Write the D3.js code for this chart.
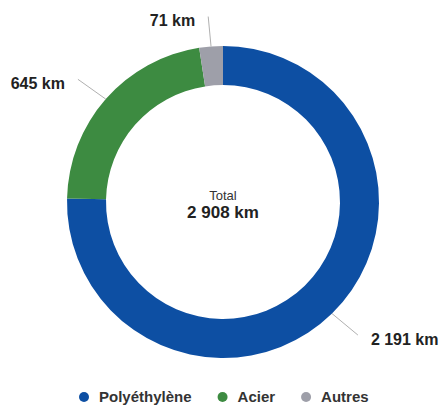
<html>
<head>
<meta charset="utf-8">
<script src="https://d3js.org/d3.v7.min.js"></script>
<style>
body {margin: 0; background: #fff;}
text {font-family: "Liberation Sans", Arial, sans-serif;}
</style>
</head>
<body>
<svg id="chart" width="441" height="405"></svg>
<script>
// data
var categories = ["Polyéthylène", "Acier", "Autres"];
var values = [2191, 645, 71];
var colors = ["#0d4fa3", "#3d8b41", "#9e9fa9"];
var totalLabel = "Total";
var totalValue = 2908; // as printed (rounded)

function fmt(v) {
    return d3.format(",")(v).replace(/,/g, " ") + " km";
}

var cx = 223, cy = 202;
var outer = 156, inner = 117;

var svg = d3.select("#chart");
var g = svg.append("g").attr("transform", "translate(" + cx + "," + cy + ")");

var data = categories.map(function(c, i) { return {name: c, value: values[i], color: colors[i]}; });

var pie = d3.pie().sort(null).value(function(d) { return d.value; });
var arc = d3.arc().innerRadius(inner).outerRadius(outer);
var arcs = pie(data);

g.selectAll("path")
    .data(arcs)
    .enter()
    .append("path")
    .attr("d", arc)
    .style("fill", function(d) { return d.data.color; });

//labels (connector ends sit on a slightly flattened ellipse)
var labelRx = 193, labelRy = 186;
arcs.forEach(function(d) {
    var a = (d.startAngle + d.endAngle) / 2;
    var sx = Math.sin(a), sy = -Math.cos(a);
    var x1 = sx * outer, y1 = sy * outer;
    var x2 = sx * labelRx, y2 = sy * labelRy;
    g.append("line")
        .attr("x1", x1).attr("y1", y1)
        .attr("x2", x2).attr("y2", y2)
        .style("stroke", "#b0b0b0")
        .style("stroke-width", 1);
    var right = sx > 0;
    g.append("text")
        .attr("x", right ? x2 + 13 : x2 - 13)
        .attr("y", y2 + 4)
        .attr("dy", "0.35em")
        .attr("text-anchor", right ? "start" : "end")
        .style("font-size", "16px")
        .style("font-weight", "bold")
        .style("fill", "#222")
        .text(fmt(d.data.value));
});

//center
g.append("text")
    .attr("x", 0).attr("y", -2)
    .attr("text-anchor", "middle")
    .style("font-size", "13px")
    .style("fill", "#333")
    .text(totalLabel);
g.append("text")
    .attr("x", 0).attr("y", 16)
    .attr("text-anchor", "middle")
    .style("font-size", "17px")
    .style("font-weight", "bold")
    .style("fill", "#222")
    .text(fmt(totalValue));

//legend
var legend = svg.append("g").attr("transform", "translate(84,397)");
var lx = 0;
data.forEach(function(d) {
    var item = legend.append("g").attr("transform", "translate(" + lx + ",0)");
    item.append("circle").attr("r", 5).style("fill", d.color);
    var t = item.append("text")
        .attr("x", 15)
        .attr("dy", "0.35em")
        .style("font-size", "15px")
        .style("font-weight", "bold")
        .style("fill", "#333")
        .text(d.name);
    lx += 15 + t.node().getComputedTextLength() + 31;
});
</script>
</body>
</html>
